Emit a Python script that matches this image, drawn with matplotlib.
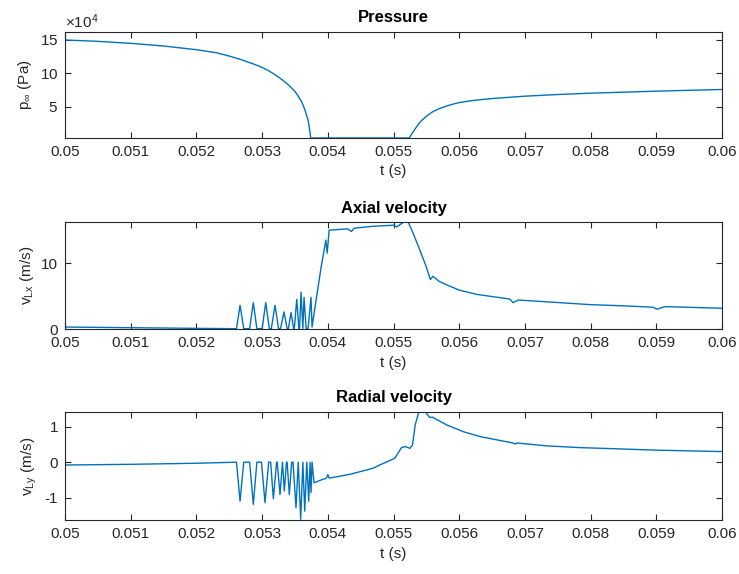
import matplotlib
matplotlib.use("Agg")
import matplotlib.pyplot as plt

# Time ticks
t_ticks = [0.050, 0.051, 0.052, 0.053, 0.054, 0.055, 0.056, 0.057, 0.058, 0.059, 0.060]
t_tick_labels = ["0.05", "0.051", "0.052", "0.053", "0.054", "0.055",
                 "0.056", "0.057", "0.058", "0.059", "0.06"]

# Pressure (Pa)
t_p = [0.0500, 0.0505, 0.0510, 0.0515, 0.0520, 0.0523, 0.0525, 0.0527, 0.0529,
       0.0530, 0.0531, 0.0532, 0.0533, 0.0534, 0.0535, 0.05355, 0.0536, 0.05365,
       0.0537, 0.05372, 0.05374, 0.0545, 0.05524, 0.0553, 0.0554, 0.0555, 0.0556,
       0.0557, 0.0558, 0.0559, 0.0560, 0.0562, 0.0565, 0.0570, 0.0575, 0.0580,
       0.0585, 0.0590, 0.0595, 0.0600]
p_inf = [15.0e4, 14.8e4, 14.5e4, 14.1e4, 13.55e4, 13.1e4, 12.6e4, 12.0e4, 11.3e4,
         10.9e4, 10.4e4, 9.8e4, 9.1e4, 8.3e4, 7.3e4, 6.6e4, 5.8e4, 4.6e4,
         3.0e4, 1.8e4, 0.35e4, 0.35e4, 0.35e4, 1.3e4, 2.7e4, 3.6e4, 4.3e4,
         4.75e4, 5.1e4, 5.4e4, 5.65e4, 5.95e4, 6.25e4, 6.6e4, 6.85e4, 7.05e4,
         7.2e4, 7.35e4, 7.48e4, 7.6e4]

# Axial velocity (m/s)
t_ax = [0.0500, 0.0510, 0.0520, 0.05261,
        0.052664, 0.05272, 0.05281, 0.052866, 0.05292, 0.05300, 0.053055, 0.05311,
        0.05314, 0.053196, 0.05325, 0.05328, 0.053333, 0.05338, 0.05340, 0.053440,
        0.05348, 0.05349, 0.053527, 0.05356, 0.05357, 0.053592, 0.05362,
        0.053638, 0.05367, 0.05370, 0.053744,
        0.05376, 0.0538, 0.0539, 0.05397, 0.05399, 0.05402, 0.0543, 0.05436, 0.0544,
        0.0547, 0.0550, 0.05505, 0.05515, 0.05522, 0.0553, 0.0554, 0.0555, 0.05556,
        0.0556, 0.0557, 0.05581, 0.0560, 0.05627, 0.05652, 0.05677, 0.05682, 0.0569,
        0.05753, 0.05799, 0.05855, 0.05895, 0.05901, 0.05913, 0.0600]
v_lx = [0.30, 0.20, 0.10, 0.05,
        3.6, 0.05, 0.05, 4.0, 0.05, 0.05, 4.0, 0.05,
        0.05, 3.6, 0.05, 0.05, 2.6, 0.05, 0.05, 2.5,
        0.05, 0.05, 4.5, 0.05, 0.05, 5.6, 0.1,
        4.8, 0.1, 0.1, 4.8,
        0.3, 3.0, 9.5, 13.5, 11.5, 15.0, 15.2, 14.8, 15.3,
        15.6, 15.75, 15.5, 16.2, 16.3, 14.5, 12.0, 9.4, 7.5,
        8.0, 7.2, 6.7, 5.9, 5.25, 4.9, 4.55, 4.0, 4.4,
        4.0, 3.7, 3.5, 3.3, 3.0, 3.4, 3.15]

# Radial velocity (m/s)
t_rad = [0.0500, 0.0510, 0.0520, 0.05261,
         0.052664, 0.05272, 0.05281, 0.052866, 0.05292, 0.05299, 0.053044, 0.05310,
         0.05313, 0.053171, 0.05322, 0.05323, 0.053272, 0.05331, 0.053338,
         0.05337, 0.05338, 0.053414, 0.05345, 0.05347, 0.053516, 0.05355,
         0.053587, 0.05362, 0.053648, 0.05368, 0.053709, 0.05373,
         0.053744, 0.05376,
         0.05379, 0.0539, 0.05398, 0.05400, 0.05402, 0.05434, 0.05469, 0.05479,
         0.05502, 0.05512, 0.05518, 0.05525, 0.05529, 0.05533, 0.05539, 0.05548,
         0.05555, 0.05559, 0.05581, 0.05606, 0.05632, 0.05657, 0.05682, 0.05685,
         0.05688, 0.05733, 0.05784, 0.05835, 0.05898, 0.05997, 0.0600]
v_ly = [-0.08, -0.06, -0.03, 0.0,
        -1.10, 0.0, 0.0, -1.19, 0.0, 0.0, -1.14, 0.0,
        0.0, -1.03, 0.0, 0.0, -0.91, 0.0, -0.81,
        0.0, 0.0, -0.91, 0.0, 0.0, -1.28, 0.0,
        -1.61, 0.0, -1.38, 0.0, -1.10, 0.0,
        -0.86, 0.0,
        -0.58, -0.50, -0.45, -0.35, -0.45, -0.34, -0.17, -0.08,
        0.11, 0.41, 0.44, 0.39, 0.49, 1.05, 1.45, 1.43,
        1.26, 1.27, 1.05, 0.86, 0.72, 0.63, 0.54, 0.51,
        0.54, 0.46, 0.41, 0.38, 0.34, 0.30, 0.30]

plt.rcParams["font.family"] = ["Liberation Sans", "DejaVu Sans"]
plt.rcParams["mathtext.fontset"] = "custom"
plt.rcParams["mathtext.rm"] = "Liberation Sans"
plt.rcParams["mathtext.default"] = "regular"
plt.rcParams["axes.unicode_minus"] = False

line_color = "#0072BD"
axis_color = "#262626"

fig = plt.figure(figsize=(7.39, 5.74), dpi=100)
ax1 = fig.add_axes([0.088, 0.7596, 0.889, 0.1847])
ax2 = fig.add_axes([0.088, 0.4268, 0.889, 0.186])
ax3 = fig.add_axes([0.088, 0.094, 0.889, 0.188])

panels = [
    (ax1, t_p, p_inf, "Pressure", r"p$_{\infty}$ (Pa)", (0.35e4, 16.2e4), [5e4, 10e4, 15e4]),
    (ax2, t_ax, v_lx, "Axial velocity", r"v$_{Lx}$ (m/s)", (0, 16.2), [0, 10]),
    (ax3, t_rad, v_ly, "Radial velocity", r"v$_{Ly}$ (m/s)", (-1.63, 1.41), [-1, 0, 1]),
]

for ax, t, v, title, ylab, ylim, yticks in panels:
    ax.plot(t, v, color=line_color, linewidth=1.0)
    ax.set_xlim(0.05, 0.06)
    ax.set_ylim(*ylim)
    ax.set_xticks(t_ticks)
    ax.set_xticklabels(t_tick_labels)
    ax.set_yticks(yticks)
    ax.set_title(title, fontsize=12, fontweight="bold", color="black", pad=7)
    ax.set_xlabel("t (s)", fontsize=11, color=axis_color, labelpad=4)
    ax.set_ylabel(ylab, fontsize=11, color=axis_color, labelpad=4)
    ax.tick_params(direction="in", top=True, right=True, length=4, width=0.8,
                   labelsize=11, colors=axis_color, pad=5)
    for s in ax.spines.values():
        s.set_color(axis_color)
        s.set_linewidth(0.8)

ax1.ticklabel_format(axis="y", style="sci", scilimits=(4, 4), useMathText=True)
ax1.yaxis.get_offset_text().set_fontsize(11)
ax1.yaxis.get_offset_text().set_color(axis_color)

fig.savefig("out.png", dpi=100, facecolor="white")
